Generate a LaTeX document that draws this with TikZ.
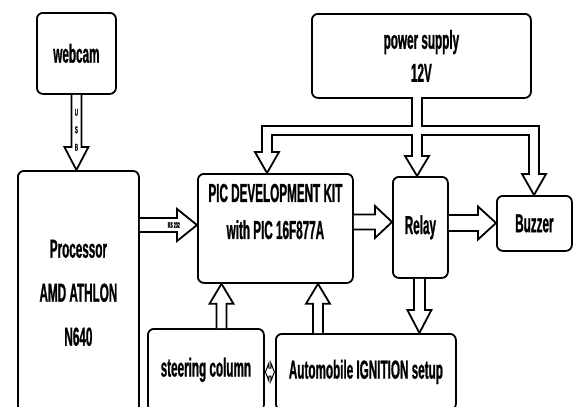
\documentclass[tikz,border=0pt]{standalone}
\usepackage{fontspec}
\usetikzlibrary{calc}
\newfontfamily\cf{Liberation Sans}[FakeStretch=0.45, FakeBold=0.8]
\tikzset{
  box/.style={draw, line width=1.8pt, rounded corners=6pt, anchor=north west,
    inner sep=0pt, align=center, font=\cf\bfseries\fontsize{26}{30}\selectfont},
  blk/.style={draw, line width=1.8pt, fill=white, line join=miter},
}
\newcommand\barrow[5]{%
  \coordinate (bah) at ($(#2)!#5!(#1)$);
  \draw[blk] ($(#1)!#3!90:(#2)$) -- ($(bah)!#3!90:(#2)$) -- ($(bah)!#4!90:(#2)$)
    -- (#2) -- ($(bah)!#4!-90:(#2)$) -- ($(bah)!#3!-90:(#2)$) -- ($(#1)!#3!-90:(#2)$);
}
\begin{document}
\begin{tikzpicture}[x=1pt,y=-1pt]
\useasboundingbox (0,0) rectangle (574,407);
\clip (0,0) rectangle (574,407);
\fill[white] (0,0) rectangle (574,407);
% boxes
\node[box, minimum width=79pt, minimum height=81pt] (webcam) at (36,12) {webcam};
\node[box, minimum width=121pt, minimum height=244pt] (proc) at (17,170)
  {Processor\\[14pt] AMD ATHLON\\[14pt] N640};
\node[box, minimum width=155pt, minimum height=109pt] (pic) at (197,173)
  {PIC DEVELOPMENT KIT\\[7pt] with PIC 16F877A\\[4pt]};
\node[box, minimum width=219pt, minimum height=84pt] (ps) at (311,13)
  {power supply\\[3pt] 12V};
\node[box, minimum width=55pt, minimum height=101pt] (relay) at (392,176) {Relay};
\node[box, minimum width=75pt, minimum height=55pt] (buzzer) at (496,195) {Buzzer};
\node[box, minimum width=116pt, minimum height=82pt] (steer) at (147,328) {steering column};
\node[box, minimum width=180pt, minimum height=76pt] (ign) at (275,333) {Automobile IGNITION setup};
% arrows
\barrow{webcam.south}{webcam.south |- proc.north}{5pt}{12pt}{23pt}
\node[font=\cf\bfseries\fontsize{10}{17.5}\selectfont, align=center, inner sep=0pt] (usb)
  at ($(webcam.south)+(0,35)$) {U\\S\\B};
\coordinate (rs1) at ($(proc.north east)+(0,55)$);
\barrow{rs1}{rs1 -| pic.west}{7pt}{16pt}{20pt}
\node[font=\cf\bfseries\fontsize{8}{9}\selectfont, inner sep=0pt] (rs) at ($(rs1)+(34,0)$) {RS 232};
\coordinate (pr1) at ($(pic.north east)+(0,49)$);
\barrow{pr1}{pr1 -| relay.west}{7.5pt}{16pt}{17pt}
\coordinate (rb1) at ($(relay.north east)+(0,47)$);
\barrow{rb1}{rb1 -| buzzer.west}{8pt}{16.5pt}{18pt}
\coordinate (ri1) at ($(relay.south)+(-1,0)$);
\barrow{ri1}{ri1 |- ign.north}{5.5pt}{12pt}{23pt}
\coordinate (sp1) at ($(steer.north west)+(74.5,0)$);
\barrow{sp1}{sp1 |- pic.south}{5pt}{12pt}{20pt}
\coordinate (ip1) at ($(ign.north west)+(43,0)$);
\barrow{ip1}{ip1 |- pic.south}{5pt}{12pt}{20pt}
% power bus
\draw[blk] (412,97) -- (412,126) -- (262,126) -- (262,152) -- (255,152) -- (267,173)
  -- (279,152) -- (272,152) -- (272,135) -- (412,135) -- (412,156) -- (405,156)
  -- (417,176) -- (429,156) -- (422,156) -- (422,135) -- (529,135) -- (529,174)
  -- (522,174) -- (534,195) -- (546,174) -- (539,174) -- (539,126) -- (422,126) -- (422,97);
% small double arrow between steering column and ignition
\coordinate (dbl) at ($(steer.east |- 0,372)!0.5!(ign.west |- 0,372)$);
\draw[blk, line width=1pt] ($(dbl)+(-4.5,0)$) -- ($(dbl)+(-1,-9)$) -- ($(dbl)+(-1,-4)$)
  -- ($(dbl)+(1,-4)$) -- ($(dbl)+(1,-9)$) -- ($(dbl)+(4.5,0)$) -- ($(dbl)+(1,9)$)
  -- ($(dbl)+(1,4)$) -- ($(dbl)+(-1,4)$) -- ($(dbl)+(-1,9)$) -- cycle;
\end{tikzpicture}
\end{document}
